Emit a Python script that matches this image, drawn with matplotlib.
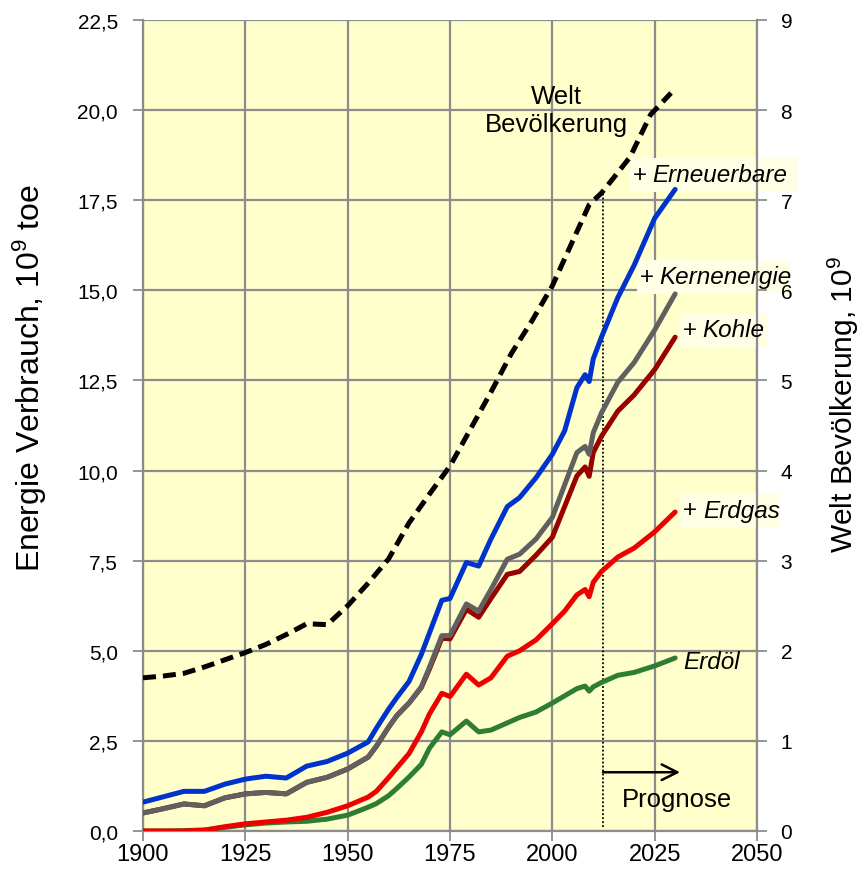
import matplotlib
matplotlib.use("Agg")
import matplotlib.pyplot as plt
import numpy as np
from matplotlib.patches import Rectangle

plt.rcParams['font.family'] = ['Liberation Sans', 'DejaVu Sans']
plt.rcParams['mathtext.fontset'] = 'custom'
plt.rcParams['mathtext.rm'] = 'Liberation Sans'
plt.rcParams['mathtext.it'] = 'Liberation Sans:italic'

# ---------------- data ----------------
years = [1900, 1905, 1910, 1915, 1920, 1925, 1930, 1935, 1940, 1945, 1950, 1955,
         1957, 1960, 1962, 1965, 1968, 1970, 1973, 1975, 1979, 1982, 1985, 1989,
         1992, 1996, 2000, 2003, 2006, 2008, 2009, 2010, 2012, 2016, 2020, 2025, 2030]

erneuerbare = [0.80, 0.95, 1.10, 1.10, 1.30, 1.44, 1.52, 1.47, 1.80, 1.93, 2.16, 2.47,
               2.85, 3.38, 3.70, 4.15, 4.90, 5.50, 6.40, 6.45, 7.45, 7.35, 8.10, 9.00,
               9.25, 9.80, 10.45, 11.10, 12.30, 12.66, 12.47, 13.10, 13.70, 14.80, 15.70,
               17.00, 17.80]
kernenergie = [0.50, 0.62, 0.75, 0.70, 0.92, 1.03, 1.07, 1.03, 1.35, 1.49, 1.72, 2.05,
               2.35, 2.88, 3.20, 3.55, 4.00, 4.55, 5.42, 5.42, 6.30, 6.10, 6.70, 7.54,
               7.68, 8.10, 8.70, 9.60, 10.50, 10.67, 10.45, 11.05, 11.60, 12.45, 13.00,
               13.90, 14.90]
kohle = [0.50, 0.62, 0.75, 0.70, 0.92, 1.03, 1.07, 1.03, 1.35, 1.49, 1.72, 2.05,
         2.35, 2.88, 3.20, 3.55, 3.98, 4.50, 5.35, 5.33, 6.15, 5.93, 6.45, 7.12,
         7.20, 7.65, 8.15, 9.00, 9.85, 10.10, 9.84, 10.50, 10.95, 11.65, 12.10,
         12.80, 13.70]
erdgas = [0.00, 0.00, 0.00, 0.02, 0.12, 0.20, 0.25, 0.30, 0.38, 0.52, 0.70, 0.94,
          1.10, 1.48, 1.75, 2.15, 2.75, 3.25, 3.82, 3.73, 4.35, 4.05, 4.25, 4.85,
          5.00, 5.30, 5.75, 6.10, 6.55, 6.70, 6.50, 6.90, 7.20, 7.60, 7.85, 8.30, 8.85]
erdoel = [0.00, 0.00, 0.01, 0.03, 0.10, 0.17, 0.22, 0.25, 0.27, 0.33, 0.44, 0.66,
          0.76, 0.98, 1.18, 1.50, 1.85, 2.30, 2.75, 2.67, 3.05, 2.75, 2.80, 3.00,
          3.15, 3.30, 3.55, 3.75, 3.95, 4.02, 3.88, 4.00, 4.12, 4.32, 4.40, 4.58, 4.80]

pop_years = [1900, 1905, 1910, 1915, 1920, 1925, 1930, 1935, 1940, 1945, 1950, 1955,
             1960, 1965, 1970, 1975, 1980, 1985, 1990, 1995, 2000, 2005, 2009, 2012,
             2015, 2019, 2024, 2029]
population = [1.70, 1.72, 1.75, 1.82, 1.90, 1.98, 2.07, 2.18, 2.30, 2.29, 2.50, 2.75,
              3.02, 3.42, 3.74, 4.05, 4.46, 4.87, 5.30, 5.66, 6.05, 6.55, 6.95, 7.08,
              7.25, 7.48, 7.95, 8.19]

prognose_start = 2012.4

x_ticks = [1900, 1925, 1950, 1975, 2000, 2025, 2050]
left_ticks = [0, 2.5, 5, 7.5, 10, 12.5, 15, 17.5, 20, 22.5]
left_labels = ["0,0", "2,5", "5,0", "7,5", "10,0", "12,5", "15,0", "17,5", "20,0", "22,5"]
right_ticks = [0, 1, 2, 3, 4, 5, 6, 7, 8, 9]
right_labels = ["0", "1", "2", "3", "4", "5", "6", "7", "8", "9"]

# ---------------- figure ----------------
W, H = 859, 879
fig = plt.figure(figsize=(W / 100, H / 100), dpi=100)
ax = fig.add_axes([143 / W, 1 - 832 / H, (757 - 143) / W, (832 - 21) / H])
ax.set_facecolor('#FFFFCC')
ax.set_xlim(1900, 2050)
ax.set_ylim(0, 22.5)

grid_c = '#8C8C8C'
ax.set_xticks(x_ticks)
ax.set_yticks(left_ticks)
ax.set_yticklabels(left_labels)
ax.grid(True, color=grid_c, lw=1.6, zorder=0)
ax.set_axisbelow(True)
for s in ['left', 'bottom', 'right']:
    ax.spines[s].set_color(grid_c)
    ax.spines[s].set_linewidth(1.6)
ax.spines['top'].set_visible(False)
ax.tick_params(axis='y', direction='out', length=7, width=1.3, color=grid_c,
               labelsize=15, labelcolor='black', pad=11)
ax.tick_params(axis='x', direction='out', length=7, width=1.3, color=grid_c,
               labelsize=17, labelcolor='black', pad=2)

lw = 3.6
kw = dict(lw=lw, solid_joinstyle='round', solid_capstyle='round', zorder=3)
ax.plot(years, erdoel, color='#2E7D32', **kw)
ax.plot(years, erdgas, color='#EE0000', **kw)
ax.plot(years, kohle, color='#990000', **kw)
ax.plot(years, kernenergie, color='#606060', **kw)
ax.plot(years, erneuerbare, color='#0033CC', **kw)

ax2 = ax.twinx()
ax2.set_ylim(0, 9)
ax2.set_yticks(right_ticks)
ax2.set_yticklabels(right_labels)
for s in ['left', 'bottom', 'right', 'top']:
    ax2.spines[s].set_visible(False)
ax2.tick_params(axis='y', direction='out', length=7, width=1.3, color=grid_c,
                labelsize=15, pad=10)
ax2.plot(pop_years, population, color='black', lw=lw, ls=(0, (2.6, 1.4)),
         dash_capstyle='butt', zorder=4)

# axis titles
fig.text(30 / W, 1 - 378 / H, 'Energie Verbrauch, 10$^9$ toe', fontsize=23,
         rotation=90, ha='center', va='center')
fig.text(843 / W, 1 - 405 / H, 'Welt Bevölkerung, 10$^9$', fontsize=21.5,
         rotation=90, ha='center', va='center')

# dotted prognosis line
pop_at = np.interp(prognose_start, pop_years, population) * 2.5
ax.plot([prognose_start, prognose_start], [0.12, pop_at], color='black', lw=1.3,
        ls=(0, (1, 1.2)), zorder=2)
ax.annotate('', xy=(2031.2, 1.63), xytext=(prognose_start, 1.63),
            arrowprops=dict(arrowstyle='->', color='black', lw=1.8,
                            mutation_scale=28, shrinkA=0, shrinkB=0))
ax.text(2030.5, 0.88, 'Prognose', fontsize=18.5, ha='center', va='center')

ax.text(2001.1, 20.0, 'Welt\nBevölkerung', fontsize=18.5, ha='center', va='center',
        linespacing=1.25)

# labels with boxes
box_c = '#FFFFE6'
boxes = [  # (x0, x1, y_center)
    (2019.0, 2060.0, 18.2),
    (2020.6, 2058.0, 15.38),
    (2031.0, 2052.7, 13.9),
    (2031.0, 2055.6, 8.9),
]
for x0, x1, yc in boxes:
    ax.add_patch(Rectangle((x0, yc - 0.47), x1 - x0, 0.94, facecolor=box_c,
                           edgecolor='none', zorder=2.5, clip_on=False))

def lab(xplus, xword, yv, word):
    if xplus is not None:
        ax.text(xplus, yv, '+', fontsize=17.5, ha='left', va='center',
                zorder=6, clip_on=False)
    ax.text(xword, yv, word, fontsize=17.5, style='italic',
            ha='left', va='center', zorder=6, clip_on=False)

lab(2019.7, 2024.4, 18.2, 'Erneuerbare')
lab(2021.4, 2026.1, 15.38, 'Kernenergie')
lab(2031.9, 2036.6, 13.9, 'Kohle')
lab(2031.9, 2036.8, 8.9, 'Erdgas')
lab(None, 2031.9, 4.7, 'Erdöl')

fig.savefig('out.png', dpi=100)
